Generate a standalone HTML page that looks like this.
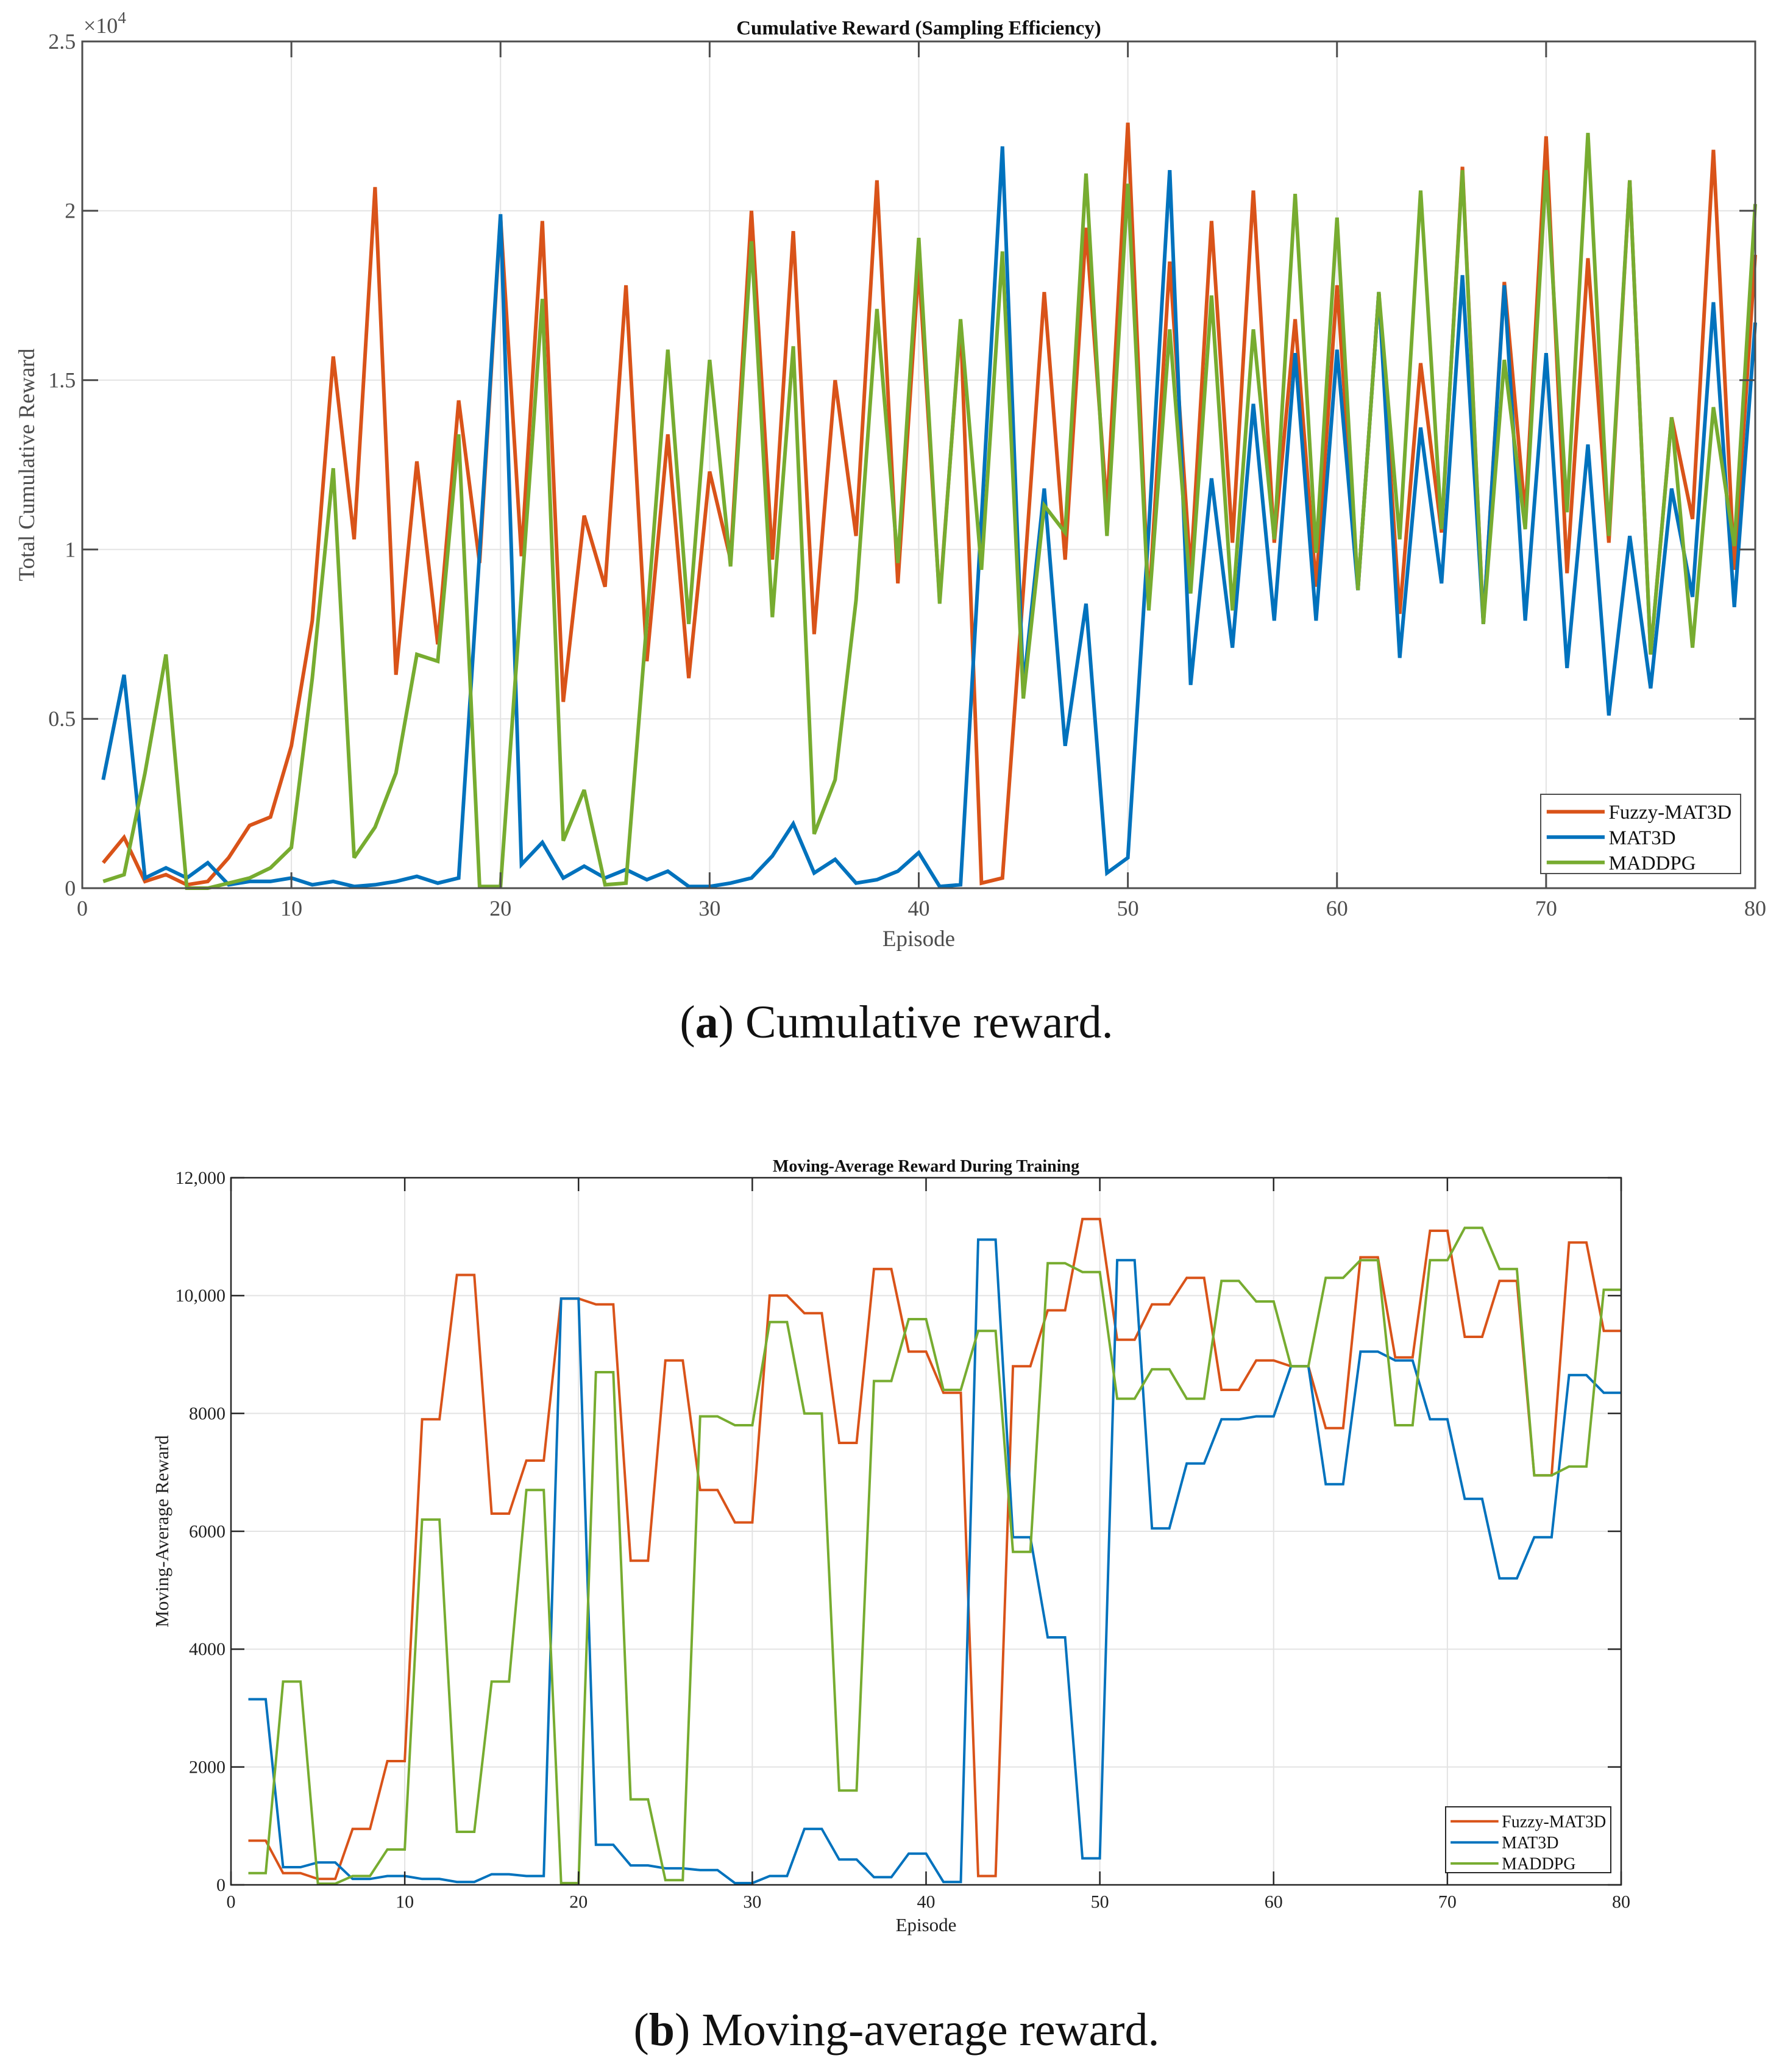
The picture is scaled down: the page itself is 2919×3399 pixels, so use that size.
<!DOCTYPE html>
<html><head><meta charset="utf-8">
<style>
html,body{margin:0;padding:0;background:#fff;}
svg{display:block;}
text{font-family:"Liberation Serif",serif;}
</style></head>
<body>
<svg id="fig" width="2919" height="3399" viewBox="0 0 2919 3399" xmlns="http://www.w3.org/2000/svg">
<text x="1471" y="1702" font-size="76" text-anchor="middle" fill="#111">(<tspan font-weight="bold">a</tspan>) Cumulative reward.</text>
<text x="1471" y="3355" font-size="76" text-anchor="middle" fill="#111">(<tspan font-weight="bold">b</tspan>) Moving-average reward.</text>
</svg>
<script>
// ---------- Chart A data ----------
const episodesA = [1,2,3,4,5,6,7,8,9,10,11,12,13,14,15,16,17,18,19,20,21,22,23,24,25,26,27,28,29,30,31,32,33,34,35,36,37,38,39,40,41,42,43,44,45,46,47,48,49,50,51,52,53,54,55,56,57,58,59,60,61,62,63,64,65,66,67,68,69,70,71,72,73,74,75,76,77,78,79,80];
const fuzzyA = [750,1500,200,400,100,200,900,1850,2100,4200,7900,15700,10300,20700,6300,12600,7200,14400,9600,19800,9800,19700,5500,11000,8900,17800,6700,13400,6200,12300,9700,20000,9700,19400,7500,15000,10400,20900,9000,18400,8500,16700,150,300,8800,17600,9700,19500,11200,22600,8300,18500,9300,19700,10200,20600,10200,16800,8900,17800,8800,17600,8100,15500,10500,21300,7800,17900,11000,22200,9300,18600,10200,20900,6900,13900,10900,21800,9400,18700];
const mat3dA = [3200,6300,300,600,300,750,100,200,200,300,100,200,50,100,200,350,150,300,9900,19900,700,1350,300,650,300,550,250,500,50,50,150,300,950,1900,450,850,150,250,500,1050,50,100,10900,21900,5900,11800,4200,8400,450,900,10600,21200,6000,12100,7100,14300,7900,15800,7900,15900,8800,17600,6800,13600,9000,18100,7800,17800,7900,15800,6500,13100,5100,10400,5900,11800,8600,17300,8300,16700];
const maddpgA = [200,400,3400,6900,0,0,150,300,600,1200,6200,12400,900,1800,3400,6900,6700,13400,50,50,8700,17400,1400,2900,100,150,7900,15900,7800,15600,9500,19100,8000,16000,1600,3200,8500,17100,9600,19200,8400,16800,9400,18800,5600,11300,10500,21100,10400,20800,8200,16500,8700,17500,8200,16500,10300,20500,9900,19800,8800,17600,10300,20600,10600,21200,7800,15600,10600,21200,11100,22300,10400,20900,6900,13900,7100,14200,10100,20200];
const yTicksA = [0,5000,10000,15000,20000,25000];
const yTickLabelsA = ["0","0.5","1","1.5","2","2.5"];
const xTicks = [0,10,20,30,40,50,60,70,80];
// ---------- Chart B data (window plateau values, each spans 2 episodes) ----------
const windowsB = [1,2,3,4,5,6,7,8,9,10,11,12,13,14,15,16,17,18,19,20,21,22,23,24,25,26,27,28,29,30,31,32,33,34,35,36,37,38,39,40];
const fuzzyB = [750,200,100,950,2100,7900,10350,6300,7200,9950,9850,5500,8900,6700,6150,10000,9700,7500,10450,9050,8350,150,8800,9750,11300,9250,9850,10300,8400,8900,8800,7750,10650,8950,11100,9300,10250,6950,10900,9400];
const mat3dB = [3150,300,380,100,150,100,50,180,150,9950,680,330,280,250,30,150,950,430,130,530,50,10950,5900,4200,450,10600,6050,7150,7900,7950,8800,6800,9050,8900,7900,6550,5200,5900,8650,8350];
const maddpgB = [200,3450,20,150,600,6200,900,3450,6700,30,8700,1450,80,7950,7800,9550,8000,1600,8550,9600,8400,9400,5650,10550,10400,8250,8750,8250,10250,9900,8800,10300,10600,7800,10600,11150,10450,6950,7100,10100];
const yTicksB = [0,2000,4000,6000,8000,10000,12000];
const yTickLabelsB = ["0","2000","4000","6000","8000","10,000","12,000"];

const NS = "http://www.w3.org/2000/svg";
const svg = document.getElementById('fig');
function mk(tag, attrs, parent){
  const e = document.createElementNS(NS, tag);
  for (const k in attrs) e.setAttribute(k, attrs[k]);
  (parent||svg).appendChild(e);
  return e;
}
const colors = {fuzzy:"#D95319", mat3d:"#0072BD", maddpg:"#77AC30"};

function drawChart(cfg){
  const g = mk('g', {});
  
  
  const L=cfg.L,R=cfg.R,T=cfg.T,B=cfg.B;
  const xs = v => L + (v-0)/(80-0)*(R-L);
  const ys = v => B - v/cfg.yMax*(B-T);
  // grid
  xTicks.forEach(t=>{
    if (t>0 && t<80){
      const l = mk('line',{x1:xs(t),x2:xs(t),y1:T,y2:B,stroke:"#e3e3e3","stroke-width":2},g);
      
      
    }
  });
  cfg.yTicks.forEach(t=>{
    if (t>0 && t<cfg.yMax){
      const l = mk('line',{x1:L,x2:R,y1:ys(t),y2:ys(t),stroke:"#e3e3e3","stroke-width":2},g);
      
      
    }
  });
  // series
  cfg.series.forEach(s=>{
    const pts = s.pts.map(p=>xs(p[0]).toFixed(1)+","+ys(p[1]).toFixed(1)).join(" ");
    const pl = mk('polyline',{points:pts,fill:"none",stroke:s.color,"stroke-width":cfg.lw,"stroke-linejoin":"miter","stroke-miterlimit":3},g);
    
    
  });
  // axes box
  const box = mk('rect',{x:L,y:T,width:R-L,height:B-T,fill:"none",stroke:cfg.axisColor,"stroke-width":cfg.axW},g);
  
  
  const tl = cfg.tickLen;
  xTicks.forEach(t=>{
    mk('line',{x1:xs(t),x2:xs(t),y1:B,y2:B-tl,stroke:cfg.axisColor,"stroke-width":cfg.axW},g);
    mk('line',{x1:xs(t),x2:xs(t),y1:T,y2:T+tl,stroke:cfg.axisColor,"stroke-width":cfg.axW},g);
    const tx = mk('text',{x:xs(t),y:B+cfg.tickFs*1.25,"font-size":cfg.tickFs,"text-anchor":"middle",fill:cfg.textColor},g);
    tx.textContent = String(t);
    
    
  });
  cfg.yTicks.forEach((t,i)=>{
    mk('line',{x1:L,x2:L+tl,y1:ys(t),y2:ys(t),stroke:cfg.axisColor,"stroke-width":cfg.axW},g);
    mk('line',{x1:R,x2:R-tl,y1:ys(t),y2:ys(t),stroke:cfg.axisColor,"stroke-width":cfg.axW},g);
    const tx = mk('text',{x:L-cfg.tickFs*0.3,y:ys(t)+cfg.tickFs*0.33,"font-size":cfg.tickFs,"text-anchor":"end",fill:cfg.textColor},g);
    tx.textContent = cfg.yTickLabels[i];
    
    
  });
  // title
  const ti = mk('text',{x:(L+R)/2,y:T-cfg.titleFs*0.35,"font-size":cfg.titleFs,"font-weight":"bold","text-anchor":"middle",fill:"#111"},g);
  ti.textContent = cfg.title;
  
  
  const xl = mk('text',{x:(L+R)/2,y:cfg.xLabelY,"font-size":cfg.labelFs,"text-anchor":"middle",fill:cfg.textColor},g);
  xl.textContent = "Episode";
  
  
  const yl = mk('text',{x:0,y:0,"font-size":cfg.labelFs,"text-anchor":"middle",fill:cfg.textColor,transform:`translate(${cfg.yLabelX},${(T+B)/2}) rotate(-90)`},g);
  yl.textContent = cfg.yLabel;
  
  
  if (cfg.exp){
    const ex = mk('text',{x:L+2,y:T-14,"font-size":cfg.tickFs,fill:cfg.textColor},g);
    ex.innerHTML = '×10<tspan dy="-16" font-size="'+(cfg.tickFs*0.75)+'">4</tspan>';
    
    
  }
  // legend
  const lg = cfg.legend;
  const lb = mk('g',{},g);
  
  
  mk('rect',{x:lg.x,y:lg.y,width:lg.w,height:lg.h,fill:"#fff",stroke:cfg.axisColor,"stroke-width":2},lb);
  cfg.series.forEach((s,i)=>{
    const cy = lg.y + lg.h*(0.22+0.32*i)+ (i===0?0:0);
    const ent = mk('g',{},lb);
    
    
    mk('line',{x1:lg.x+lg.w*0.03,x2:lg.x+lg.w*0.32,y1:cy,y2:cy,stroke:s.color,"stroke-width":cfg.lw},ent);
    const t = mk('text',{x:lg.x+lg.w*0.34,y:cy+lg.fs*0.35,"font-size":lg.fs,fill:"#111"},ent);
    t.textContent = s.label;
  });
}

const ptsA = arr => episodesA.map((e,i)=>[e,arr[i]]);
const ptsB = arr => { const p=[]; windowsB.forEach((w,i)=>{p.push([2*w-1,arr[i]]);p.push([2*w,arr[i]]);}); return p; };

drawChart({name:"chart-cumulative-reward",L:135,R:2880,T:68,B:1457,yMax:25000,yTicks:yTicksA,yTickLabels:yTickLabelsA,
  lw:6,axW:3,axisColor:"#4d4d4d",textColor:"#4d4d4d",tickLen:26,tickFs:36,titleFs:33,labelFs:37,
  title:"Cumulative Reward (Sampling Efficiency)",xLabelY:1552,yLabelX:56,yLabel:"Total Cumulative Reward",exp:true,
  legend:{x:2528,y:1303,w:328,h:130,fs:33},
  series:[{name:"line-fuzzy-mat3d",label:"Fuzzy-MAT3D",color:colors.fuzzy,pts:ptsA(fuzzyA)},
          {name:"line-mat3d",label:"MAT3D",color:colors.mat3d,pts:ptsA(mat3dA)},
          {name:"line-maddpg",label:"MADDPG",color:colors.maddpg,pts:ptsA(maddpgA)}]});

drawChart({name:"chart-moving-average-reward",L:379,R:2660,T:1932,B:3092,yMax:12000,yTicks:yTicksB,yTickLabels:yTickLabelsB,
  lw:4,axW:2.5,axisColor:"#262626",textColor:"#222",tickLen:22,tickFs:30,titleFs:28,labelFs:31,
  title:"Moving-Average Reward During Training",xLabelY:3168,yLabelX:276,yLabel:"Moving-Average Reward",exp:false,
  legend:{x:2372,y:2964,w:271,h:108,fs:28},
  series:[{name:"line-fuzzy-mat3d-ma",label:"Fuzzy-MAT3D",color:colors.fuzzy,pts:ptsB(fuzzyB)},
          {name:"line-mat3d-ma",label:"MAT3D",color:colors.mat3d,pts:ptsB(mat3dB)},
          {name:"line-maddpg-ma",label:"MADDPG",color:colors.maddpg,pts:ptsB(maddpgB)}]});
</script>
</body></html>
